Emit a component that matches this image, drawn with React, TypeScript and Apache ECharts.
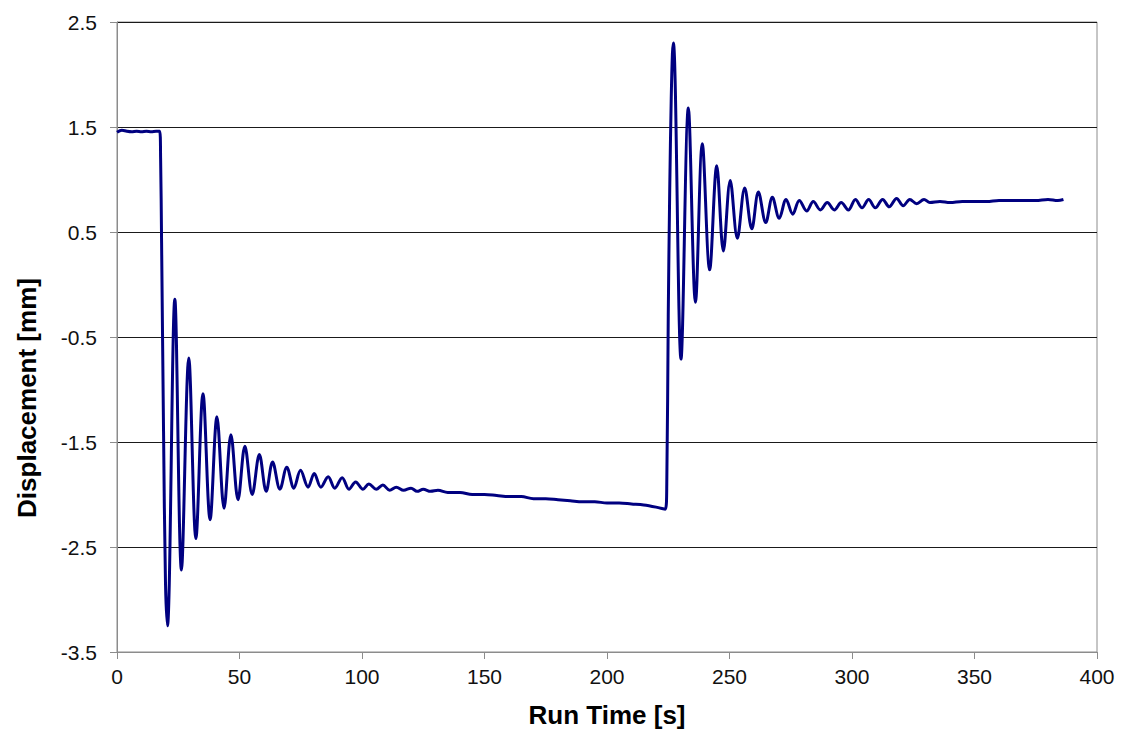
import React, { useEffect, useRef } from "react";
import * as echarts from "echarts";

// Displacement trace, [run time in s, displacement in mm]
const holdBeforeStep: [number, number][] = [
  [0, 1.45], [2, 1.47], [4, 1.46], [6, 1.455], [8, 1.46], [10, 1.455],
  [12, 1.46], [14, 1.455], [16, 1.46], [17.4, 1.46],
];

const firstStepResponse: [number, number][] = [
  [17.8, 1.2], [18.2, 0.4], [19.0, -1.4], [19.8, -2.85], [20.6, -3.25],
  [23.6, -0.14], [26.3, -2.72], [29.3, -0.7], [32.2, -2.42], [35.1, -1.04],
  [38.0, -2.24], [40.8, -1.26], [43.7, -2.13], [46.5, -1.43], [49.4, -2.05],
  [52.2, -1.54], [55.2, -2.0], [58.1, -1.62], [60.9, -1.97], [63.5, -1.69],
  [66.5, -1.95], [69.3, -1.74], [72.2, -1.94], [74.9, -1.77], [78.0, -1.93],
  [80.5, -1.8], [83.2, -1.93], [86.2, -1.83], [88.9, -1.94], [91.9, -1.84],
  [94.7, -1.95], [97.4, -1.88], [100.4, -1.95], [102.8, -1.9], [105.8, -1.95],
  [108.5, -1.91], [111.3, -1.96], [114.0, -1.93], [117.0, -1.96], [120.0, -1.94],
  [122.5, -1.97], [125.0, -1.95], [128.0, -1.97], [131.0, -1.96],
];

const driftBeforeReturn: [number, number][] = [
  [135, -1.98], [140, -1.98], [145, -2.0], [150, -2.0], [155, -2.01],
  [160, -2.02], [165, -2.02], [170, -2.04], [175, -2.04], [180, -2.05],
  [185, -2.06], [190, -2.07], [195, -2.07], [200, -2.08], [205, -2.08],
  [210, -2.09], [215, -2.1], [220, -2.12], [223.8, -2.14],
];

const secondStepResponse: [number, number][] = [
  [224.4, -1.9], [225.0, -0.3], [225.6, 0.9], [226.2, 1.75], [226.7, 2.2],
  [227.1, 2.3], [230.2, -0.71], [233.2, 1.68], [236.1, -0.17], [238.9, 1.34],
  [241.9, 0.14], [244.8, 1.13], [247.5, 0.32], [250.3, 0.99], [253.2, 0.44],
  [256.2, 0.92], [259.1, 0.53], [261.8, 0.88], [264.8, 0.59], [267.5, 0.83],
  [270.3, 0.63], [273.1, 0.81], [275.8, 0.67], [278.5, 0.8], [281.5, 0.7],
  [284.2, 0.79], [287.1, 0.71], [289.9, 0.78], [292.8, 0.71], [295.6, 0.78],
  [298.5, 0.71], [301.4, 0.81], [304.1, 0.73], [306.8, 0.81], [309.5, 0.73],
  [312.5, 0.81], [315.2, 0.74], [318.2, 0.82], [320.9, 0.75], [323.6, 0.81],
  [326.4, 0.77], [329.4, 0.81], [331.8, 0.78], [335.9, 0.79],
];

const settledTail: [number, number][] = [
  [340, 0.78], [345, 0.79], [350, 0.79], [355, 0.79], [360, 0.8],
  [365, 0.8], [370, 0.8], [375, 0.8], [380, 0.81], [384, 0.8], [386.3, 0.81],
];

const timeTicks = { min: 0, max: 400, step: 50 };
const displacementTicks = { min: -3.5, max: 2.5, step: 1 };

const xTitle = "Run Time [s]";
const yTitle = "Displacement [mm]";

const FONT = "'Liberation Sans', Arial, sans-serif";

export default function App() {
  const ref = useRef<HTMLDivElement>(null);

  useEffect(() => {
    if (!ref.current) return;
    const chart = echarts.init(ref.current, null, { renderer: "svg" });
    const trace = [
      ...holdBeforeStep,
      ...firstStepResponse,
      ...driftBeforeReturn,
      ...secondStepResponse,
      ...settledTail,
    ];

    chart.setOption({
      animation: false,
      backgroundColor: "#ffffff",
      grid: {
        left: 117,
        right: 24,
        top: 22,
        bottom: 90,
        show: true,
        borderColor: "#8c8c8c",
        borderWidth: 1,
        backgroundColor: "transparent",
      },
      xAxis: {
        type: "value",
        min: timeTicks.min,
        max: timeTicks.max,
        interval: timeTicks.step,
        name: xTitle,
        nameLocation: "middle",
        nameGap: 50,
        nameTextStyle: {
          fontFamily: FONT,
          fontSize: 26,
          fontWeight: "bold",
          color: "#000",
        },
        axisLine: { show: true, onZero: false, lineStyle: { color: "#8c8c8c", width: 1 } },
        axisTick: { show: true, inside: false, length: 7, lineStyle: { color: "#8c8c8c" } },
        axisLabel: {
          margin: 14,
          fontFamily: FONT,
          fontSize: 21,
          color: "#111",
        },
        splitLine: { show: false },
      },
      yAxis: {
        type: "value",
        min: displacementTicks.min,
        max: displacementTicks.max,
        interval: displacementTicks.step,
        axisLine: { show: true, onZero: false, lineStyle: { color: "#8c8c8c", width: 1 } },
        axisTick: { show: true, inside: false, length: 7, lineStyle: { color: "#8c8c8c" } },
        axisLabel: {
          margin: 20,
          fontFamily: FONT,
          fontSize: 21,
          color: "#111",
          formatter: (v: number) => v.toFixed(1),
        },
        splitLine: { show: true, lineStyle: { color: "#1a1a1a", width: 1 } },
      },
      graphic: [
        {
          type: "text",
          x: 27,
          y: 398,
          rotation: Math.PI / 2,
          style: {
            text: yTitle,
            fontFamily: FONT,
            fontSize: 26,
            fontWeight: "bold",
            fill: "#000",
            textAlign: "center",
            textVerticalAlign: "middle",
          },
        },
      ],
      series: [
        {
          type: "line",
          data: trace,
          showSymbol: false,
          smooth: 0.35,
          lineStyle: { color: "#000080", width: 3 },
          itemStyle: { color: "#000080" },
          z: 5,
        },
      ],
    });

    return () => chart.dispose();
  }, []);

  return (
    <div
      ref={ref}
      style={{ position: "fixed", left: 0, top: 0, width: 1121, height: 742, background: "#fff" }}
    />
  );
}
